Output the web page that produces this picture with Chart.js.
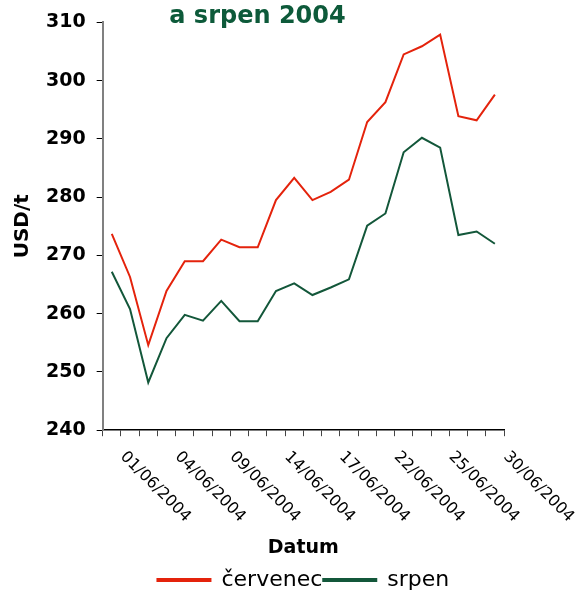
<!DOCTYPE html>
<html>
<head>
<meta charset="utf-8">
<script src="https://cdn.jsdelivr.net/npm/chart.js@4"></script>
<style>
  html, body { margin: 0; padding: 0; background: #fff; }
  #wrap { width: 575px; height: 591px; }
</style>
</head>
<body>
<div id="wrap"><canvas id="priceChart"></canvas></div>
<script>
// trading days, June 2004
const dates = [
  '01/06/2004', '02/06/2004', '03/06/2004', '04/06/2004', '07/06/2004', '08/06/2004',
  '09/06/2004', '10/06/2004', '11/06/2004', '14/06/2004', '15/06/2004', '16/06/2004',
  '17/06/2004', '18/06/2004', '21/06/2004', '22/06/2004', '23/06/2004', '24/06/2004',
  '25/06/2004', '28/06/2004', '29/06/2004', '30/06/2004'
];
const cervenec = [
  273.7, 266.3, 254.6, 263.9, 269.0, 269.0, 272.7, 271.4, 271.4, 279.5, 283.3,
  279.5, 280.9, 283.0, 292.9, 296.3, 304.5, 305.9, 307.9, 293.9, 293.2, 297.6
];
const srpen = [
  267.2, 260.8, 248.2, 255.8, 259.8, 258.8, 262.2, 258.7, 258.7, 263.9, 265.2,
  263.2, 264.5, 265.9, 275.1, 277.2, 287.7, 290.2, 288.5, 273.5, 274.1, 272.0
];
const yTickValues = [240, 250, 260, 270, 280, 290, 300, 310];
const labelEvery = 3;

const RED = '#e4230c';
const GREEN = '#13573a';

Chart.defaults.font.family = '"DejaVu Sans", Verdana, sans-serif';
Chart.defaults.color = '#000';

// Excel style labels, slanted down to the right
const slantedLabels = {
  id: 'slantedLabels',
  afterDraw(chart) {
    const ctx = chart.ctx;
    const xs = chart.scales.x;
    ctx.save();
    ctx.font = '16px "DejaVu Sans", Verdana, sans-serif';
    ctx.fillStyle = '#000';
    ctx.textAlign = 'left';
    ctx.textBaseline = 'alphabetic';
    dates.forEach((d, i) => {
      if (i % labelEvery !== 0) return;
      const px = xs.getPixelForValue(i);
      ctx.save();
      ctx.translate(px + 8, xs.top + 27);
      ctx.rotate(Math.PI / 4);
      ctx.fillText(d, 0, 0);
      ctx.restore();
    });
    ctx.restore();
  }
};

const ctx = document.getElementById('priceChart').getContext('2d');
new Chart(ctx, {
  type: 'line',
  data: {
    labels: dates,
    datasets: [
      {
        label: 'červenec',
        data: cervenec,
        borderColor: RED,
        backgroundColor: RED,
        borderWidth: 2,
        pointRadius: 0,
        tension: 0,
        fill: false
      },
      {
        label: 'srpen',
        data: srpen,
        borderColor: GREEN,
        backgroundColor: GREEN,
        borderWidth: 2,
        pointRadius: 0,
        tension: 0,
        fill: false
      }
    ]
  },
  options: {
    responsive: true,
    maintainAspectRatio: false,
    animation: false,
    devicePixelRatio: 1,
    layout: {
      // legend keeps 10px spare under itself, pull it down
      padding: { left: 11, right: 71, top: 0, bottom: -10 }
    },
    scales: {
      x: {
        offset: true,
        border: { color: '#000', width: 1.5 },
        grid: { offset: true, drawOnChartArea: false, drawTicks: true, tickLength: 6, color: '#444' },
        ticks: { display: false },
        title: {
          display: true,
          text: 'Datum',
          color: '#000',
          font: { size: 19, weight: 'bold' },
          padding: { top: 100, bottom: 9 }
        }
      },
      y: {
        min: 240,
        max: 310,
        afterBuildTicks: scale => {
          scale.ticks = yTickValues.map(v => ({ value: v }));
        },
        border: { color: '#808080', width: 2 },
        grid: { drawOnChartArea: false, drawTicks: true, tickLength: 6, color: '#000' },
        ticks: {
          color: '#000',
          padding: 11,
          font: { size: 19, weight: 'bold' }
        },
        title: {
          display: true,
          text: 'USD/t',
          color: '#000',
          font: { size: 20, weight: 'bold' },
          padding: { top: 0, bottom: 0 }
        }
      }
    },
    plugins: {
      title: {
        display: true,
        text: 'a srpen 2004',
        color: '#0d5a3a',
        font: { size: 24, weight: 'bold' },
        padding: { top: 0, bottom: -9 }
      },
      legend: {
        position: 'bottom',
        fullSize: false,
        labels: {
          boxWidth: 53,
          boxHeight: 2,
          padding: 1,
          color: '#000',
          font: { size: 22 }
        }
      },
      tooltip: { enabled: false }
    }
  },
  plugins: [slantedLabels]
});
</script>
</body>
</html>
